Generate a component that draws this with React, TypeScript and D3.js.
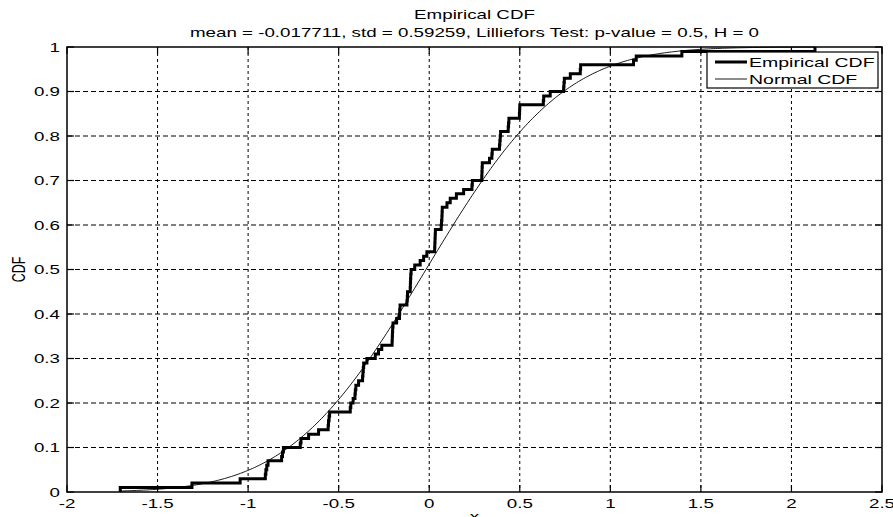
import React from "react";
import * as d3 from "d3";

// ---- data (sorted sample values read from the empirical CDF steps) ----
const sampleValues: number[] = [
  -1.706, -1.31, -1.044, -0.905, -0.902, -0.897, -0.89, -0.815, -0.81, -0.805,
  -0.712, -0.708, -0.666, -0.611, -0.558, -0.556, -0.553, -0.55, -0.436, -0.433,
  -0.42, -0.41, -0.408, -0.405, -0.39, -0.368, -0.366, -0.364, -0.362, -0.344,
  -0.298, -0.28, -0.262, -0.205, -0.204, -0.203, -0.202, -0.2, -0.18, -0.164,
  -0.163, -0.161, -0.123, -0.121, -0.12, -0.105, -0.104, -0.103, -0.102, -0.1,
  -0.08, -0.05, -0.031, -0.013, 0.03, 0.031, 0.032, 0.033, 0.034, 0.066,
  0.068, 0.07, 0.071, 0.072, 0.098, 0.116, 0.15, 0.19, 0.236, 0.238,
  0.29, 0.291, 0.292, 0.293, 0.333, 0.346, 0.348, 0.388, 0.39, 0.392,
  0.394, 0.436, 0.438, 0.44, 0.498, 0.499, 0.5, 0.63, 0.632, 0.668,
  0.742, 0.744, 0.746, 0.779, 0.834, 0.836, 1.128, 1.143, 1.395, 2.13,
];
const fitMean = -0.017711;
const fitStd = 0.59259;
const xTicks: number[] = [-2, -1.5, -1, -0.5, 0, 0.5, 1, 1.5, 2, 2.5];
const yTicks: number[] = [0, 0.1, 0.2, 0.3, 0.4, 0.5, 0.6, 0.7, 0.8, 0.9, 1];
const titleText = "Empirical CDF";
const subtitleText = "mean = -0.017711, std = 0.59259, Lilliefors Test: p-value = 0.5, H = 0";
const legendLabels: string[] = ["Empirical CDF", "Normal CDF"];

// ---- layout ----
const W = 893, H = 517;
const L = 67, R = 882, T = 47, B = 492;
const SX = 1.5; // horizontal stretch of the original image
const FONT = "'Liberation Sans', Arial, sans-serif";

function erf(x: number): number {
  const s = x < 0 ? -1 : 1;
  const a = Math.abs(x);
  const t = 1 / (1 + 0.3275911 * a);
  const y = 1 - (((((1.061405429 * t - 1.453152027) * t) + 1.421413741) * t - 0.284496736) * t + 0.254829592) * t * Math.exp(-a * a);
  return s * y;
}
const normCdf = (x: number) => 0.5 * (1 + erf((x - fitMean) / (fitStd * Math.SQRT2)));

function Txt(props: { x: number; y: number; anchor?: string; size?: number; rotate?: number; children: React.ReactNode }) {
  const { x, y, anchor = "middle", size = 12.5, rotate = 0, children } = props;
  return (
    <text
      transform={`translate(${x},${y}) scale(${SX},1)${rotate ? ` rotate(${rotate})` : ""}`}
      textAnchor={anchor}
      fontFamily={FONT}
      fontSize={size}
      fill="#000"
    >
      {children}
    </text>
  );
}

export default function App() {
  const x = d3.scaleLinear().domain([-2, 2.5]).range([L, R]);
  const y = d3.scaleLinear().domain([0, 1]).range([B, T]);
  const n = sampleValues.length;

  const stepPts: [number, number][] = [[sampleValues[0], 0]];
  sampleValues.forEach((v, i) => stepPts.push([v, (i + 1) / n]));
  const stairs = d3
    .line<[number, number]>()
    .x((d) => x(d[0]))
    .y((d) => y(d[1]))
    .curve(d3.curveStepAfter)(stepPts) as string;

  const xmin = sampleValues[0], xmax = sampleValues[n - 1];
  const normPts: [number, number][] = d3.range(0, 301).map((i) => {
    const v = xmin + ((xmax - xmin) * i) / 300;
    return [v, normCdf(v)];
  });
  const normPath = d3
    .line<[number, number]>()
    .x((d) => x(d[0]))
    .y((d) => y(d[1]))(normPts) as string;

  const tickLen = 7;
  const lgX0 = 707, lgX1 = 878, lgY0 = 52, lgY1 = 88;

  return (
    <svg width={W} height={H} style={{ position: "absolute", left: 0, top: 0, background: "#fff" }}>
      <rect x={0} y={0} width={W} height={H} fill="#fff" />
      {/* grid */}
      {xTicks.slice(1, -1).map((t) => (
        <line key={"gx" + t} x1={x(t)} x2={x(t)} y1={T} y2={B} stroke="#000" strokeWidth={1} strokeDasharray="3,3" />
      ))}
      {yTicks.slice(1, -1).map((t) => (
        <line key={"gy" + t} x1={L} x2={R} y1={y(t)} y2={y(t)} stroke="#000" strokeWidth={1} strokeDasharray="5,3" />
      ))}
      {/* curves */}
      <path d={stairs} fill="none" stroke="#000" strokeWidth={3} strokeLinejoin="miter" />
      <path d={normPath} fill="none" stroke="#000" strokeWidth={0.9} />
      {/* frame */}
      <rect x={L} y={T} width={R - L} height={B - T} fill="none" stroke="#000" strokeWidth={1.5} />
      {xTicks.map((t) => (
        <g key={"tx" + t}>
          <line x1={x(t)} x2={x(t)} y1={B} y2={B - tickLen} stroke="#000" strokeWidth={1.2} />
          <line x1={x(t)} x2={x(t)} y1={T} y2={T + tickLen} stroke="#000" strokeWidth={1.2} />
          <Txt x={x(t)} y={B + 16}>{String(t).replace("-", "-")}</Txt>
        </g>
      ))}
      {yTicks.map((t) => (
        <g key={"ty" + t}>
          <line x1={L} x2={L + tickLen} y1={y(t)} y2={y(t)} stroke="#000" strokeWidth={1.2} />
          <line x1={R} x2={R - tickLen} y1={y(t)} y2={y(t)} stroke="#000" strokeWidth={1.2} />
          <Txt x={L - 7} y={y(t) + 4.5} anchor="end">{String(t)}</Txt>
        </g>
      ))}
      {/* titles */}
      <Txt x={(L + R) / 2} y={18.5}>{titleText}</Txt>
      <Txt x={(L + R) / 2} y={36.5}>{subtitleText}</Txt>
      <Txt x={25} y={(T + B) / 2} rotate={-90}>CDF</Txt>
      <Txt x={(L + R) / 2} y={521}>x</Txt>
      {/* legend */}
      <rect x={lgX0} y={lgY0} width={lgX1 - lgX0} height={lgY1 - lgY0} fill="#fff" stroke="#000" strokeWidth={1.2} />
      <line x1={715} x2={747} y1={62} y2={62} stroke="#000" strokeWidth={3} />
      <line x1={715} x2={747} y1={79} y2={79} stroke="#000" strokeWidth={0.9} />
      <Txt x={749} y={66.5} anchor="start" size={13}>{legendLabels[0]}</Txt>
      <Txt x={749} y={84} anchor="start" size={13}>{legendLabels[1]}</Txt>
    </svg>
  );
}
